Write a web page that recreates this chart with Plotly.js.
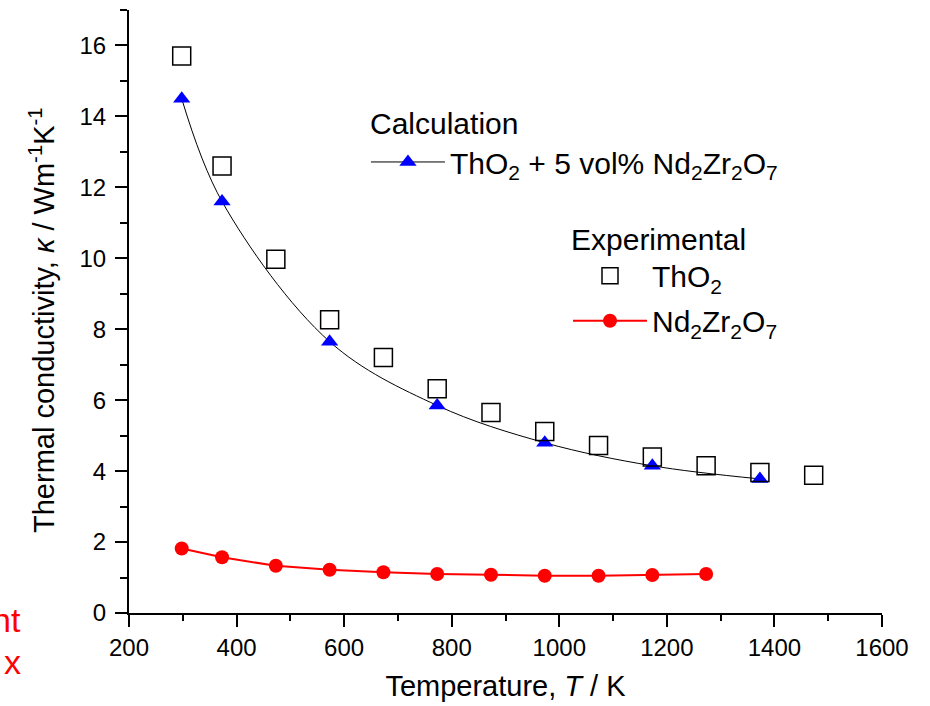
<!DOCTYPE html>
<html>
<head>
<meta charset="utf-8">
<script src="https://cdn.plot.ly/plotly-3.0.1.min.js"></script>
<style>
  html, body { margin: 0; padding: 0; background: #fff; }
  #chart { width: 930px; height: 706px; }
</style>
</head>
<body>
<div id="chart"></div>
<script>
// Temperatures (K)
const tempExp = [298, 373, 473, 573, 673, 773, 873, 973, 1073, 1173, 1273, 1373, 1473];
const tempCalc = [298, 373, 573, 773, 973, 1173, 1373];
const tempNZO = [298, 373, 473, 573, 673, 773, 873, 973, 1073, 1173, 1273];

// Thermal conductivity (W m^-1 K^-1)
const kThO2 = [15.7, 12.6, 9.97, 8.27, 7.2, 6.32, 5.65, 5.12, 4.72, 4.4, 4.15, 3.96, 3.88];
const kCalc = [14.5, 11.6, 7.65, 5.85, 4.8, 4.15, 3.78];
const kNZO = [1.82, 1.57, 1.33, 1.22, 1.15, 1.1, 1.08, 1.05, 1.05, 1.07, 1.1];

const FONT = '"Liberation Sans", Arial, sans-serif';

const traces = [
  {
    x: tempCalc, y: kCalc, type: 'scatter', mode: 'lines+markers',
    name: 'ThO<sub>2</sub> + 5 vol% Nd<sub>2</sub>Zr<sub>2</sub>O<sub>7</sub>',
    line: { color: '#000', width: 1, shape: 'spline', smoothing: 1 },
    marker: { symbol: 'triangle-up', size: 15, color: '#0000ff' },
    legend: 'legend', legendgroup: 'calc'
  },
  {
    x: tempExp, y: kThO2, type: 'scatter', mode: 'markers',
    name: 'ThO<sub>2</sub>',
    marker: { symbol: 'square-open', size: 18, color: '#000', line: { width: 1.5, color: '#000' } },
    legend: 'legend2', legendgroup: 'tho2'
  },
  {
    x: tempNZO, y: kNZO, type: 'scatter', mode: 'lines+markers',
    name: 'Nd<sub>2</sub>Zr<sub>2</sub>O<sub>7</sub>',
    line: { color: '#ff0000', width: 2 },
    marker: { symbol: 'circle', size: 14, color: '#ff0000' },
    legend: 'legend2', legendgroup: 'nzo'
  }
];

const axisCommon = {
  showgrid: false, zeroline: false, showline: true,
  linecolor: '#000', linewidth: 2,
  tickcolor: '#000', tickwidth: 2
};

const legendCommon = {
  xanchor: 'left', yanchor: 'middle',
  bgcolor: 'rgba(0,0,0,0)', borderwidth: 0,
  font: { size: 30, family: FONT },
  itemwidth: 74,
  tracegroupgap: 3
};

const layout = {
  width: 930, height: 706,
  margin: { l: 129, r: 48, t: 10, b: 93 },
  paper_bgcolor: '#fff', plot_bgcolor: '#fff',
  font: { family: FONT, color: '#000', size: 24 },
  xaxis: Object.assign({}, axisCommon, {
    range: [200, 1600], dtick: 200, tick0: 200,
    ticks: 'outside', ticklen: 12,
    minor: { dtick: 100, ticks: 'outside', ticklen: 6, tickwidth: 2, tickcolor: '#000' },
    tickfont: { size: 24 },
    title: { text: 'Temperature, <i>T</i> / K', font: { size: 29 }, standoff: 16 }
  }),
  yaxis: Object.assign({}, axisCommon, {
    range: [0, 17], dtick: 2, tick0: 0,
    ticks: 'outside', ticklen: 12,
    ticklabelstandoff: 4,
    minor: { dtick: 1, ticks: 'outside', ticklen: 7, tickwidth: 2, tickcolor: '#000' },
    tickfont: { size: 24 }
  }),
  // Mirror axes on top and right carry inward-pointing ticks
  xaxis2: Object.assign({}, axisCommon, {
    overlaying: 'x', side: 'top', range: [200, 1600], dtick: 200, tick0: 200,
    ticks: 'inside', ticklen: 12, showticklabels: false,
    minor: { dtick: 100, ticks: 'inside', ticklen: 6, tickwidth: 2, tickcolor: '#000' }
  }),
  yaxis2: Object.assign({}, axisCommon, {
    overlaying: 'y', side: 'right', range: [0, 17], dtick: 2, tick0: 0,
    ticks: 'inside', ticklen: 12, showticklabels: false,
    minor: { dtick: 1, ticks: 'inside', ticklen: 7, tickwidth: 2, tickcolor: '#000' }
  }),
  showlegend: true,
  legend: Object.assign({}, legendCommon, { x: 0.3147, y: 0.748 }),
  legend2: Object.assign({}, legendCommon, { x: 0.583, y: 0.522 }),
  annotations: [
    // y-axis title
    { xref: 'paper', yref: 'paper', x: -0.1155, y: 0.486, xanchor: 'center', yanchor: 'middle',
      textangle: -90, showarrow: false,
      text: 'Thermal conductivity, <i>κ</i> / Wm<sup>-1</sup>K<sup>-1</sup>',
      font: { size: 29, family: FONT } },
    // legend headings
    { xref: 'paper', yref: 'paper', x: 0.3174, y: 0.811, xanchor: 'left', yanchor: 'middle',
      text: 'Calculation', showarrow: false, font: { size: 30, family: FONT } },
    { xref: 'paper', yref: 'paper', x: 0.5843, y: 0.6186, xanchor: 'left', yanchor: 'middle',
      text: 'Experimental', showarrow: false, font: { size: 30, family: FONT } },
    // red side text
    { xref: 'paper', yref: 'paper', x: -0.1408, y: -0.012, xanchor: 'right', yanchor: 'middle',
      text: 'nt', showarrow: false, font: { size: 34, color: '#ff0000', family: FONT } },
    { xref: 'paper', yref: 'paper', x: -0.1408, y: -0.082, xanchor: 'right', yanchor: 'middle',
      text: 'x', showarrow: false, font: { size: 34, color: '#ff0000', family: FONT } }
  ]
};

Plotly.newPlot('chart', traces, layout, { displayModeBar: false, staticPlot: true });
</script>
</body>
</html>
